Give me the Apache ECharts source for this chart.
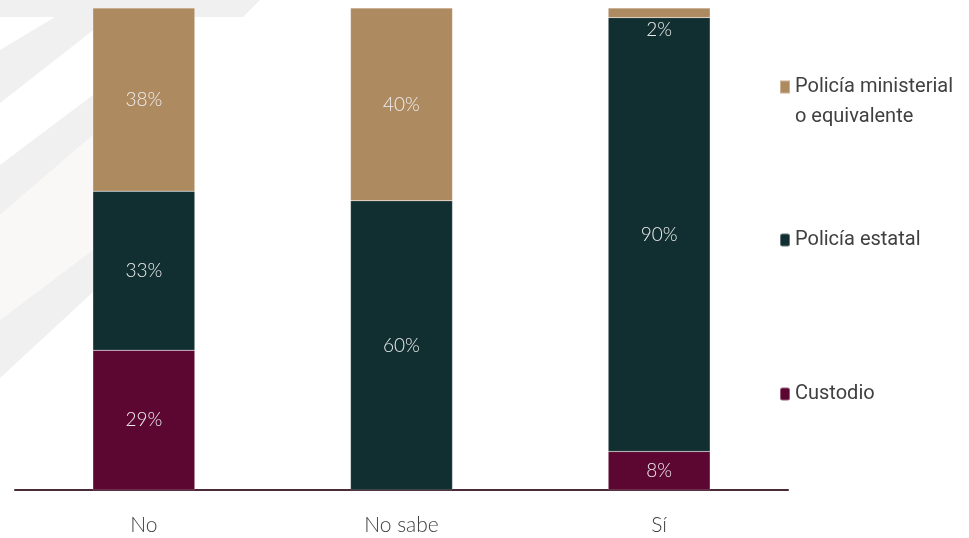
<!DOCTYPE html>
<html>
<head>
<meta charset="utf-8">
<script src="https://cdn.jsdelivr.net/npm/echarts@6/dist/echarts.min.js"></script>
<style>html,body{margin:0;padding:0;background:#fff}#c{width:969px;height:538px}</style>
</head>
<body>
<div id="c"></div>
<script>
const categories = ['No', 'No sabe', 'Sí'];
const seriesNames = ['Custodio', 'Policía estatal', 'Policía ministerial o equivalente'];
const custodio = [29, null, 8];
const estatal = [33, 60, 90];
const ministerial = [38, 40, 2];
const colors = ['#5C0732', '#112E30', '#AE8A60'];

const chart = echarts.init(document.getElementById('c'));
const labelStyle = {
  show: true, position: 'inside', color: '#eeeeee', fontSize: 19,
  fontFamily: 'Lato', fontWeight: 300,
  formatter: p => p.value + '%'
};
function mk(name, data, color) {
  return {
    name, type: 'bar', stack: 's', barWidth: 102,
    itemStyle: { color, borderColor: 'rgba(255,255,255,0.35)', borderWidth: 0.5 },
    label: labelStyle,
    data: data.map((v, i) => {
      if (name === seriesNames[2] && i === 2) {
        return { value: v, label: { position: 'bottom', distance: 3 } };
      }
      return v;
    })
  };
}
const legendText = { color: '#404040', fontSize: 20, fontFamily: 'Roboto', lineHeight: 30 };
const bg = '#f0f0f0';
chart.setOption({
  animation: false,
  backgroundColor: '#ffffff',
  graphic: [
    { type: 'polygon', z: -10, shape: { points: [[0,0],[260,0],[243,17],[0,17]] }, style: { fill: bg } },
    { type: 'polygon', z: -10, shape: { points: [[55,17],[110,17],[0,103],[0,50]] }, style: { fill: bg } },
    { type: 'polygon', z: -10, shape: { points: [[93,95],[93,135],[0,215],[0,165]] }, style: { fill: bg } },
    { type: 'polygon', z: -10, shape: { points: [[93,135],[93,250],[0,320],[0,215]] }, style: { fill: '#f9f8f7' } },
    { type: 'polygon', z: -10, shape: { points: [[93,250],[93,292],[0,378],[0,320]] }, style: { fill: bg } }
  ],
  grid: { left: 15, right: 181, top: 8, bottom: 48, containLabel: false },
  xAxis: {
    type: 'category', data: categories,
    axisLine: { lineStyle: { color: '#4a2a36', width: 2 } },
    axisTick: { show: false },
    axisLabel: { color: '#404040', fontSize: 21, fontFamily: 'Lato', fontWeight: 300, margin: 25 }
  },
  yAxis: { type: 'value', min: 0, max: 100, show: false, splitLine: { show: false } },
  legend: [
    { data: [{ name: seriesNames[2], icon: 'path://M0,0L10,0L10,13L0,13Z M0,43L0.001,43L0,43.001Z' }],
      orient: 'vertical', left: 774, top: 67, itemWidth: 10, itemHeight: 43, itemGap: 4,
      textStyle: legendText,
      formatter: () => 'Policía ministerial\no equivalente' },
    { data: [seriesNames[1]], orient: 'vertical', left: 774, top: 220, itemWidth: 10, itemHeight: 13, itemGap: 4, textStyle: legendText },
    { data: [seriesNames[0]], orient: 'vertical', left: 774, top: 374, itemWidth: 10, itemHeight: 13, itemGap: 4, textStyle: legendText }
  ],
  series: [
    mk(seriesNames[0], custodio, colors[0]),
    mk(seriesNames[1], estatal, colors[1]),
    mk(seriesNames[2], ministerial, colors[2])
  ]
});
</script>
</body>
</html>
